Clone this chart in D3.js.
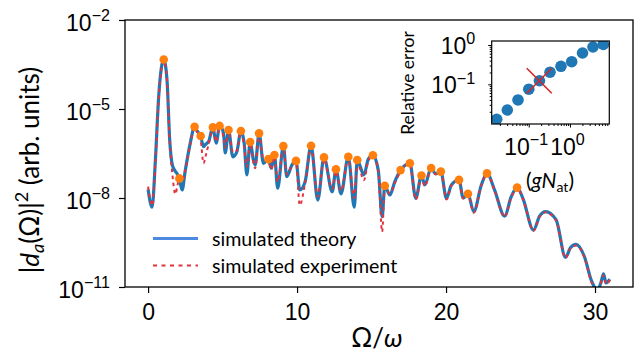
<!DOCTYPE html>
<html>
<head>
<meta charset="utf-8">
<script src="https://cdn.jsdelivr.net/npm/d3@7"></script>
<style>
  body { margin: 0; background: #fff; }
  svg { display: block; font-family: Lato, 'DejaVu Sans', sans-serif; }
</style>
</head>
<body>
<svg id="chart" width="634" height="360"></svg>
<script>
// ---- data ----
const omega = [0.00, 0.27, 0.49, 0.71, 1.05, 1.27, 1.45, 1.63, 1.83, 1.96, 2.10, 2.28, 2.50, 2.83, 3.12, 3.30, 3.53, 3.72, 3.88, 4.06,
  4.35, 4.57, 4.80, 5.06, 5.18, 5.40, 5.69, 5.96, 6.23, 6.45, 6.63, 6.85, 7.07, 7.19, 7.45, 7.74, 8.08, 8.27, 8.48, 8.70,
  9.08, 9.31, 9.65, 9.93, 10.18, 10.54, 10.94, 11.39, 11.81, 12.36, 12.61, 12.95, 13.44, 13.84, 14.04, 14.49, 14.78, 15.09, 15.45, 15.71,
  15.89, 16.23, 16.56, 16.95, 17.57, 17.97, 18.35, 18.57, 19.00, 19.31, 19.65, 20.03, 20.36, 20.87, 21.15, 21.47, 21.86, 22.37, 22.75, 23.26,
  23.93, 24.38, 24.77, 25.16, 25.87, 26.28, 26.68, 27.39, 28.02, 28.35, 28.72, 29.29, 29.74, 29.96, 30.16, 30.41, 30.57, 30.74, 31.00];

const theory = [1.95e-8, 4.9e-9, 1.91e-7, 2.57e-5, 4.68e-4, 9.55e-5, 9.12e-7, 1.29e-7, 7.94e-8, 6.46e-8, 4.57e-8, 1.86e-8, 8.71e-8, 7.08e-7, 2.51e-6, 1.78e-6, 1.23e-6, 5.37e-7, 6.61e-7, 7.94e-7,
  2.40e-6, 7.08e-7, 2.69e-6, 1.55e-6, 3.31e-7, 1.95e-6, 2.45e-7, 3.63e-7, 1.82e-6, 7.08e-7, 6.03e-8, 7.76e-7, 1.91e-7, 1.29e-7, 1.51e-6, 1.48e-7, 2.04e-7, 1.02e-7, 2.82e-7, 2.14e-8,
  5.62e-7, 5.25e-8, 1.29e-7, 1.78e-7, 1.86e-8, 3.55e-8, 5.75e-7, 8.51e-9, 2.34e-7, 1.62e-8, 9.33e-8, 1.38e-8, 2.45e-7, 4.9e-9, 1.91e-7, 6.03e-8, 2.04e-7, 2.75e-7, 8.71e-8, 2.34e-9,
  2.57e-8, 1.26e-8, 3.55e-8, 8.71e-8, 1.48e-7, 9.77e-9, 5.75e-8, 2.75e-8, 1.02e-7, 6.46e-8, 7.76e-8, 9.77e-9, 2.75e-8, 4.07e-8, 1.0e-8, 1.38e-8, 3.47e-9, 2.75e-8, 6.76e-8, 1.86e-8,
  2.45e-9, 1.12e-8, 2.24e-8, 9.77e-9, 8.32e-10, 2.45e-9, 3.47e-9, 1.82e-9, 1.0e-10, 2.09e-10, 2.75e-10, 1.05e-10, 1.74e-11, 1.0e-11, 7.94e-12, 1.48e-11, 2.75e-11, 1.38e-11, 1.82e-11];

const experiment = [2.40e-8, 5.62e-9, 1.41e-7, 2.0e-5, 4.17e-4, 8.91e-5, 7.94e-7, 6.31e-8, 1.35e-8, 2.51e-8, 4.57e-8, 3.55e-8, 8.71e-8, 6.31e-7, 2.40e-6, 1.58e-6, 8.91e-7, 1.48e-7, 2.82e-7, 6.31e-7,
  2.0e-6, 7.94e-7, 2.51e-6, 1.12e-6, 5.01e-7, 1.78e-6, 3.55e-7, 3.98e-7, 1.74e-6, 5.01e-7, 1.12e-7, 7.08e-7, 1.58e-7, 1.0e-7, 1.41e-6, 2.0e-7, 1.78e-7, 8.91e-8, 2.51e-7, 3.55e-8,
  5.01e-7, 6.31e-8, 1.26e-7, 1.58e-7, 5.75e-9, 3.16e-8, 5.01e-7, 1.12e-8, 2.0e-7, 2.0e-8, 7.94e-8, 1.78e-8, 2.24e-7, 1.0e-8, 1.58e-7, 3.98e-8, 1.78e-7, 2.63e-7, 7.94e-8, 7.24e-10,
  2.24e-8, 1.41e-8, 3.16e-8, 7.94e-8, 1.41e-7, 8.91e-9, 5.01e-8, 2.51e-8, 9.55e-8, 6.31e-8, 7.59e-8, 8.91e-9, 2.63e-8, 3.98e-8, 9.55e-9, 1.32e-8, 3.16e-9, 2.63e-8, 6.61e-8, 1.78e-8,
  2.34e-9, 1.07e-8, 2.19e-8, 9.33e-9, 7.94e-10, 2.34e-9, 3.31e-9, 1.74e-9, 9.55e-11, 2.0e-10, 2.51e-10, 1.0e-10, 1.58e-11, 8.91e-12, 7.08e-12, 1.41e-11, 2.51e-11, 1.26e-11, 1.74e-11];

const peakOmega = [1.05, 2.10, 3.12, 3.53, 4.35, 4.80, 5.40, 6.23, 6.85, 7.45, 8.08, 8.48, 9.08, 9.93, 10.94,
  11.81, 12.61, 13.44, 14.04, 15.09, 15.89, 16.95, 17.57, 18.35, 19.00, 19.65, 20.87, 21.47, 22.75, 24.77];
const peakValue = [4.68e-4, 4.57e-8, 2.51e-6, 1.23e-6, 2.40e-6, 2.69e-6, 1.95e-6, 1.82e-6, 7.76e-7, 1.51e-6, 2.04e-7, 2.82e-7, 5.62e-7, 1.78e-7, 5.75e-7,
  2.34e-7, 9.33e-8, 2.45e-7, 1.91e-7, 2.75e-7, 2.57e-8, 8.71e-8, 1.48e-7, 5.75e-8, 1.02e-7, 7.76e-8, 4.07e-8, 1.38e-8, 6.76e-8, 2.24e-8];

const xTicks = [0, 10, 20, 30];
const yTicks = [1e-11, 1e-8, 1e-5, 1e-2];
const legendLabels = ['simulated theory', 'simulated experiment'];

// inset: relative error vs coupling
const insetCoupling = [0.0168, 0.0303, 0.0551, 0.1005, 0.182, 0.328, 0.605, 1.10, 2.01, 3.6, 6.4];
const insetError = [0.0129, 0.0222, 0.040, 0.075, 0.123, 0.203, 0.287, 0.376, 0.626, 0.889, 1.03];
const markedCoupling = [0.18];
const markedError = [0.123];
const insetXTicks = [0.1, 1];
const insetYTicks = [0.1, 1];

// ---- layout ----
const svg = d3.select('#chart');
const mLeft = 125, mRight = 633, mTop = 20, mBottom = 287;

const x = d3.scaleLinear().domain([-1.55, 32.55]).range([mLeft, mRight]);
const y = d3.scaleLog().domain([1e-11, 1e-2]).range([mBottom, mTop]);

function powerLabel(sel, size) {
  sel.each(function(d) {
    const t = d3.select(this);
    const e = Math.round(Math.log10(d));
    t.text(null);
    t.append('tspan').text('10');
    t.append('tspan')
      .attr('dy', -size * 0.42)
      .style('font-size', (size * 0.7) + 'px')
      .text(String(e).replace('-', '\u2212'));
  });
}

svg.append('clipPath').attr('id', 'plotClip')
  .append('rect').attr('x', mLeft).attr('y', mTop).attr('width', mRight - mLeft).attr('height', mBottom - mTop);

const plot = svg.append('g').attr('clip-path', 'url(#plotClip)');

const seriesLine = d3.line().x((d, i) => x(omega[i])).y(d => y(d)).curve(d3.curveMonotoneX);

plot.append('path')
  .datum(theory)
  .attr('d', seriesLine)
  .attr('fill', 'none')
  .attr('stroke', '#1f77b4')
  .attr('stroke-width', 3.2)
  .attr('stroke-linejoin', 'round');

plot.append('path')
  .datum(experiment)
  .attr('d', seriesLine)
  .attr('fill', 'none')
  .attr('stroke', '#e0343f')
  .attr('stroke-width', 2)
  .attr('stroke-dasharray', '3.5,3.5');

plot.selectAll('circle.peak')
  .data(peakOmega)
  .enter().append('circle')
  .attr('class', 'peak')
  .attr('cx', d => x(d))
  .attr('cy', (d, i) => y(peakValue[i]))
  .attr('r', 4.3)
  .attr('fill', '#ff7f0e');

// axes
const xAxis = svg.append('g')
  .attr('transform', `translate(0,${mBottom})`)
  .call(d3.axisBottom(x).tickValues(xTicks).tickSize(6).tickPadding(10));
xAxis.selectAll('text').style('font-size', '23px').attr('fill', '#000').attr('dy', '0.72em');

const yAxis = svg.append('g')
  .attr('transform', `translate(${mLeft},0)`)
  .call(d3.axisLeft(y).tickValues(yTicks).tickSize(6).tickPadding(9));
yAxis.selectAll('text').style('font-size', '23px').attr('fill', '#000').attr('dy', '10px').call(powerLabel, 23);

[xAxis, yAxis].forEach(a => {
  a.select('.domain').remove();
  a.selectAll('line').attr('stroke', '#000').attr('stroke-width', 1.2);
});

svg.append('rect')
  .attr('x', mLeft).attr('y', mTop).attr('width', mRight - mLeft).attr('height', mBottom - mTop)
  .attr('fill', 'none').attr('stroke', '#000').attr('stroke-width', 1.3);

// axis labels
svg.append('text')
  .attr('x', 377).attr('y', 347)
  .attr('text-anchor', 'middle')
  .style('font-size', '26px')
  .html('\u03A9/<tspan font-style="italic">\u03C9</tspan>');

const yl = svg.append('text')
  .attr('transform', 'translate(39,170) rotate(-90)')
  .attr('text-anchor', 'middle')
  .style('font-size', '26px');
yl.append('tspan').text('|');
yl.append('tspan').attr('font-style', 'italic').text('d');
yl.append('tspan').attr('font-style', 'italic').attr('dy', 5).style('font-size', '18px').text('a');
yl.append('tspan').attr('dy', -5).text('(\u03A9)|');
yl.append('tspan').attr('dy', -11).style('font-size', '18px').text('2');
yl.append('tspan').attr('dy', 11).text(' (arb. units)');

// legend
const legend = svg.append('g');
const legendColors = ['#4b8ae0', '#e0343f'];
const legendDash = [null, '4,4.5'];
legendLabels.forEach((lab, i) => {
  const ly = 238.5 + i * 27;
  legend.append('line')
    .attr('x1', 153).attr('x2', 198).attr('y1', ly).attr('y2', ly)
    .attr('stroke', legendColors[i])
    .attr('stroke-width', i === 0 ? 2.8 : 2.2)
    .attr('stroke-dasharray', legendDash[i]);
  legend.append('text')
    .attr('x', 212).attr('y', ly + 7)
    .style('font-size', '19.6px')
    .text(lab);
});

// ---- inset ----
const iL = 491.7, iR = 609.3, iT = 41, iB = 124;
const ix = d3.scaleLog().domain([0.0127, 8.95]).range([iL, iR]);
const iy = d3.scaleLog().domain([0.00977, 1.264]).range([iB, iT]);
const inset = svg.append('g');

inset.append('rect')
  .attr('x', iL).attr('y', iT).attr('width', iR - iL).attr('height', iB - iT)
  .attr('fill', '#fff');

svg.append('clipPath').attr('id', 'insetClip')
  .append('rect').attr('x', iL).attr('y', iT).attr('width', iR - iL).attr('height', iB - iT);

const insetPlot = inset.append('g').attr('clip-path', 'url(#insetClip)');
insetPlot.selectAll('circle')
  .data(insetCoupling)
  .enter().append('circle')
  .attr('cx', d => ix(d))
  .attr('cy', (d, i) => iy(insetError[i]))
  .attr('r', 5.8)
  .attr('fill', '#1f77b4');

markedCoupling.forEach((c, i) => {
  const cx = ix(c), cy = iy(markedError[i]), s = 12.5;
  insetPlot.append('path')
    .attr('d', `M${cx - s},${cy - s}L${cx + s},${cy + s}M${cx + s},${cy - s}L${cx - s},${cy + s}`)
    .attr('stroke', '#d62728')
    .attr('stroke-width', 1.6);
});

const ixMinor = [];
const iyMinor = [];
[0.01, 0.1, 1].forEach(dec => {
  for (let k = 2; k <= 9; k++) {
    const v = dec * k;
    if (v >= ix.domain()[0] && v <= ix.domain()[1]) ixMinor.push(v);
    if (v >= iy.domain()[0] && v <= iy.domain()[1]) iyMinor.push(v);
  }
});

const ixAxis = inset.append('g').attr('transform', `translate(0,${iB})`);
ixAxis.call(d3.axisBottom(ix).tickValues(ixMinor).tickSize(2).tickFormat(''));
const ixMajor = inset.append('g').attr('transform', `translate(0,${iB})`)
  .call(d3.axisBottom(ix).tickValues(insetXTicks).tickSize(3.5).tickPadding(11));
ixMajor.selectAll('text').style('font-size', '23px').attr('fill', '#000').attr('dy', '0.72em').attr('dx', -3).call(powerLabel, 23);

const iyAxis = inset.append('g').attr('transform', `translate(${iL},0)`);
iyAxis.call(d3.axisLeft(iy).tickValues(iyMinor).tickSize(2).tickFormat(''));
const iyMajor = inset.append('g').attr('transform', `translate(${iL},0)`)
  .call(d3.axisLeft(iy).tickValues(insetYTicks).tickSize(3.5).tickPadding(13));
iyMajor.selectAll('text').style('font-size', '23px').attr('fill', '#000').attr('dy', '8.5px').call(powerLabel, 23);

[ixAxis, ixMajor, iyAxis, iyMajor].forEach(a => {
  a.select('.domain').remove();
  a.selectAll('line').attr('stroke', '#000').attr('stroke-width', 1);
});

inset.append('rect')
  .attr('x', iL).attr('y', iT).attr('width', iR - iL).attr('height', iB - iT)
  .attr('fill', 'none').attr('stroke', '#000').attr('stroke-width', 1.2);

inset.append('text')
  .attr('transform', 'translate(414,83) rotate(-90)')
  .attr('text-anchor', 'middle')
  .style('font-size', '17.5px')
  .text('Relative error');

inset.append('text')
  .attr('x', 550).attr('y', 188)
  .attr('text-anchor', 'middle')
  .style('font-size', '21px')
  .html('(<tspan font-style="italic">gN</tspan><tspan dy="4" style="font-size:14px">at</tspan><tspan dy="-4">)</tspan>');
</script>
</body>
</html>
